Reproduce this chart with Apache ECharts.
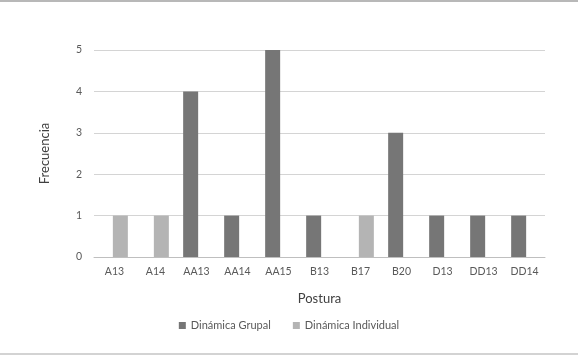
<!DOCTYPE html>
<html lang="es">
<head>
  <meta charset="UTF-8">
  <title>Frecuencia por postura</title>
  <script src="https://cdn.jsdelivr.net/npm/echarts@6/dist/echarts.min.js"></script>
  <style>
    html, body { margin: 0; padding: 0; background: #fff; }
    #chart { width: 578px; height: 358px; }
  </style>
</head>
<body>
  <div id="chart"></div>
  <script>
    // datos
    var categorias = ['A13', 'A14', 'AA13', 'AA14', 'AA15', 'B13', 'B17', 'B20', 'D13', 'DD13', 'DD14']
    var grupal = [null, null, 4, 1, 5, 1, null, 3, 1, 1, 1]
    var individual = [1, 1, null, null, null, null, 1, null, null, null, null]
    var yTicks = [0, 1, 2, 3, 4, 5]

    var font = 'Lato, "Open Sans", sans-serif'
    var chart = echarts.init(document.getElementById('chart'))

    chart.setOption({
      animation: false,
      textStyle: { fontFamily: font },
      grid: { left: 94, right: 33, top: 50, bottom: 101 },
      graphic: [
        { type: 'line', shape: { x1: 0, y1: 1, x2: 578, y2: 1 }, style: { stroke: '#a0a0a0', lineWidth: 1.5 } },
        { type: 'line', shape: { x1: 0, y1: 354, x2: 578, y2: 354 }, style: { stroke: '#c4c4c4', lineWidth: 1.5 } }
      ],
      legend: {
        bottom: 22,
        left: 'center',
        itemWidth: 7,
        itemHeight: 7,
        itemGap: 22,
        icon: 'rect',
        textStyle: { fontSize: 11, color: '#595959', fontFamily: font }
      },
      xAxis: {
        type: 'category',
        data: categorias,
        name: 'Postura',
        nameLocation: 'middle',
        nameGap: 35,
        nameTextStyle: { fontSize: 13, color: '#404040' },
        axisLine: { lineStyle: { color: '#bfbfbf' } },
        axisTick: { show: false },
        axisLabel: { fontSize: 10.5, color: '#595959', margin: 9 }
      },
      yAxis: {
        type: 'value',
        min: yTicks[0],
        max: yTicks[yTicks.length - 1],
        interval: 1,
        name: 'Frecuencia',
        nameLocation: 'middle',
        nameGap: 43,
        nameTextStyle: { fontSize: 13, color: '#404040' },
        axisLine: { show: false },
        axisTick: { show: false },
        axisLabel: { fontSize: 10.5, color: '#595959', margin: 12 },
        splitLine: { lineStyle: { color: '#d4d4d4' } }
      },
      series: [
        {
          name: 'Dinámica Grupal',
          type: 'bar',
          data: grupal,
          barWidth: 15,
          barGap: '-22%',
          itemStyle: { color: '#767676' }
        },
        {
          name: 'Dinámica Individual',
          type: 'bar',
          data: individual,
          barWidth: 15,
          barGap: '-22%',
          itemStyle: { color: '#b4b4b4' }
        }
      ]
    })
  </script>
</body>
</html>
